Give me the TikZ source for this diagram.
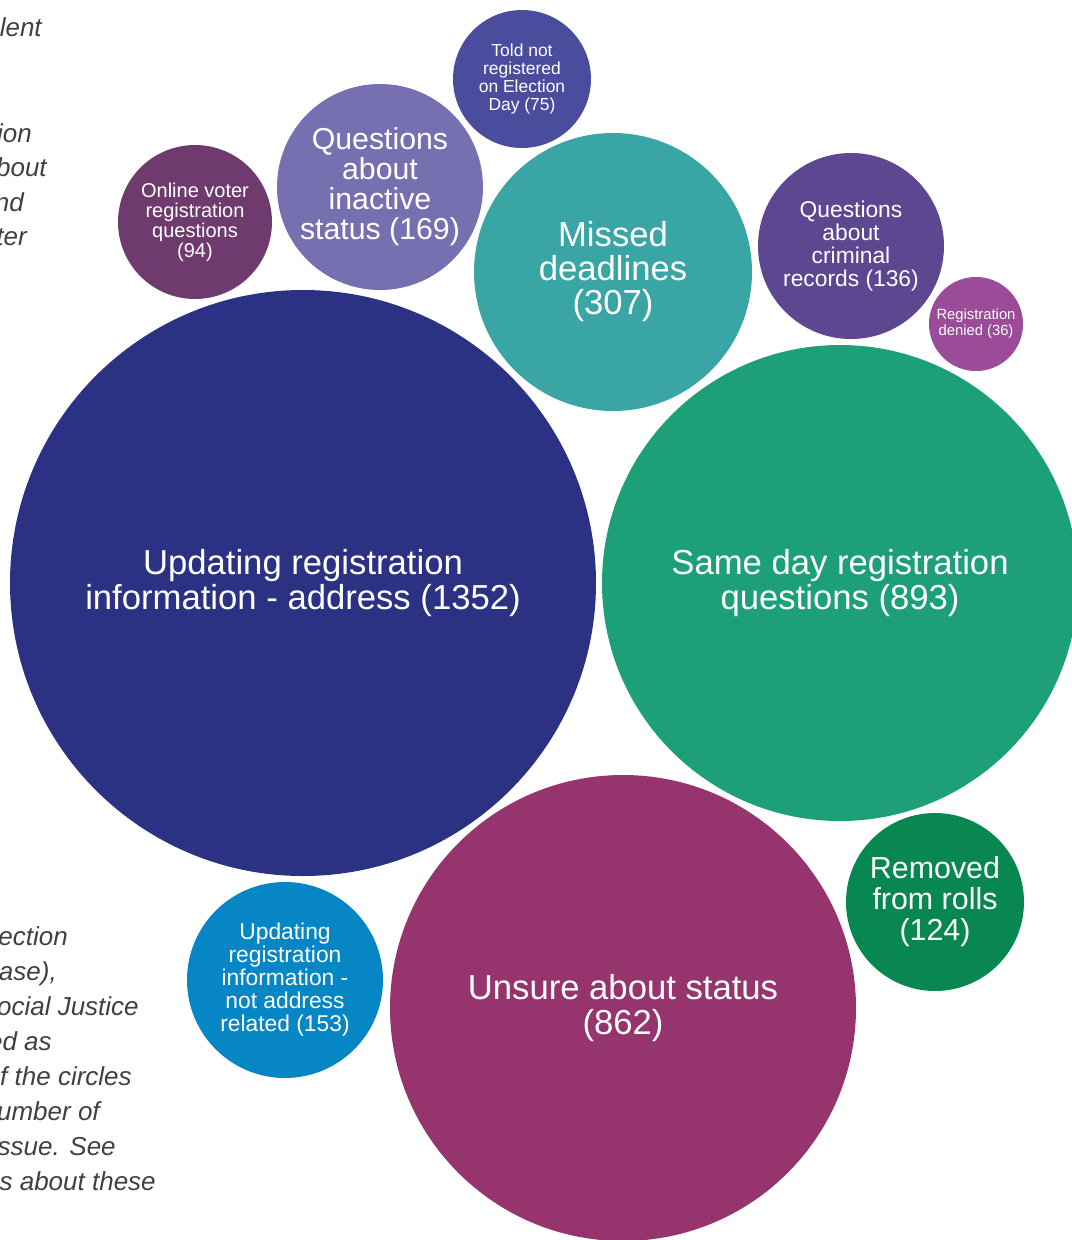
\documentclass[tikz,border=0pt]{standalone}
\usepackage{fontspec}
\setmainfont{Liberation Sans}
\definecolor{cNavy}{HTML}{2B3183}
\definecolor{cSame}{HTML}{1D9F78}
\definecolor{cUnsure}{HTML}{96346E}
\definecolor{cMissed}{HTML}{39A6A5}
\definecolor{cInactive}{HTML}{7670B1}
\definecolor{cOnline}{HTML}{6F3B6E}
\definecolor{cTold}{HTML}{4A4C9D}
\definecolor{cCrim}{HTML}{5E4791}
\definecolor{cDenied}{HTML}{9A4C98}
\definecolor{cRemoved}{HTML}{088751}
\definecolor{cUpd}{HTML}{0686C4}
\definecolor{cSide}{HTML}{404040}
\newcommand\bsz[2]{\fontsize{#1}{#2}\selectfont}
\tikzset{
  bubble/.style={circle, inner sep=0pt, text=white, align=center},
  sidetext/.style={anchor=base east, inner sep=0pt, text=cSide, font=\bsz{19.5pt}{24pt}\itshape}
}
\begin{document}
\begin{tikzpicture}[x=0.75pt,y=-0.75pt]
\useasboundingbox (0,0) rectangle (1072,1240);
\clip (0,0) rectangle (1072,1240);
% side text (cut off at left edge)
\node[sidetext] (s1) at (42,36) {lent};
\node[sidetext] (s2) at (32,142) {ion};
\node[sidetext] (s3) at (47,176) {bout};
\node[sidetext] (s4) at (24,211) {nd};
\node[sidetext] (s5) at (27,245) {ter};
\node[sidetext] (s6) at (68,945) {ection};
\node[sidetext] (s7) at (57,980) {ase),};
\node[sidetext] (s8) at (139,1015) {ocial Justice};
\node[sidetext] (s9) at (52,1050) {ed as};
\node[sidetext] (s10) at (132,1085) {f the circles};
\node[sidetext] (s11) at (100,1120) {umber of};
\node[sidetext] (s12) at (116,1155) {issue. See};
\node[sidetext] (s13) at (156,1190) {s about these};
% bubbles
\node[bubble, fill=cNavy, minimum size=439.5pt, font=\bsz{26pt}{26.25pt}] (addr) at (303,583)
  {Updating registration\\information - address (1352)};
\node[bubble, fill=cSame, minimum size=357pt, font=\bsz{26pt}{26.25pt}] (same) at (840,583)
  {Same day registration\\questions (893)};
\node[bubble, fill=cUnsure, minimum size=349.5pt, font=\bsz{26pt}{26.25pt}] (unsure) at (623,1008)
  {Unsure about status\\(862)};
\node[bubble, fill=cMissed, minimum size=208.5pt, font=\bsz{26pt}{25.5pt}] (missed) at (613,272)
  {Missed\\deadlines\\(307)};
\node[bubble, fill=cInactive, minimum size=154.5pt, font=\bsz{22.7pt}{22.5pt}] (inactive) at (380,187)
  {Questions\\about\\inactive\\status (169)};
\node[bubble, fill=cOnline, minimum size=115.5pt, font=\bsz{15pt}{15pt}] (online) at (195,222)
  {Online voter\\registration\\questions\\(94)};
\node[bubble, fill=cTold, minimum size=103.5pt, font=\bsz{13.1pt}{13.5pt}] (told) at (522,79)
  {Told not\\registered\\on Election\\Day (75)};
\node[bubble, fill=cCrim, minimum size=139.5pt, font=\bsz{17.1pt}{17.25pt}] (crim) at (851,246)
  {Questions\\about\\criminal\\records (136)};
\node[bubble, fill=cDenied, minimum size=70.5pt, font=\bsz{11.1pt}{12pt}] (denied) at (976,324)
  {Registration\\denied (36)};
\node[bubble, fill=cRemoved, minimum size=133.5pt, font=\bsz{22.8pt}{23.25pt}] (removed) at (935,902)
  {Removed\\from rolls\\(124)};
\node[bubble, fill=cUpd, minimum size=147pt, font=\bsz{17.1pt}{17.25pt}] (upd) at (285,980)
  {Updating\\registration\\information -\\not address\\related (153)};
\end{tikzpicture}
\end{document}
